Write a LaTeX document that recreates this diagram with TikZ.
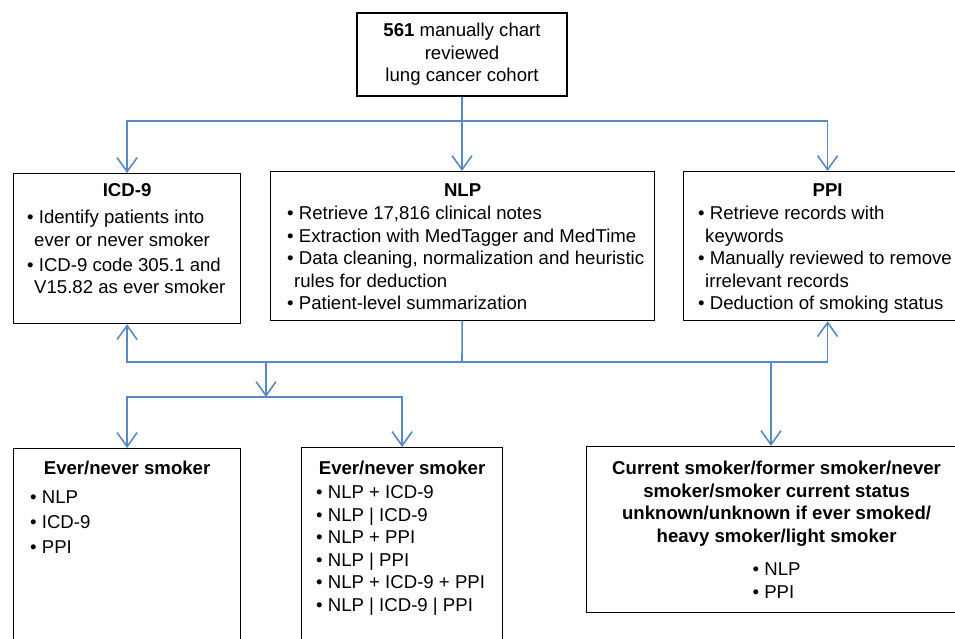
\documentclass[tikz,border=0pt]{standalone}
\usepackage{fontspec}
\setmainfont{Liberation Sans}
\usetikzlibrary{positioning,arrows.meta}
\definecolor{linkblue}{RGB}{86,137,197}
\newcommand{\boxfont}{\fontsize{18.6}{22.5}\selectfont}
\newcommand{\bul}{\textbullet\ }
\newcommand{\cont}{\hspace*{7pt}}
\tikzset{
  box/.style={draw, line width=1.2pt, inner sep=0pt, anchor=north west},
  title/.style={inner sep=0pt, anchor=north, font=\boxfont\bfseries},
  list/.style={inner sep=0pt, align=left, anchor=north west},
  link/.style={draw=linkblue, line width=1.6pt},
  flow/.style={link, -{Straight Barb[length=14pt,width=20pt]}},
}
\begin{document}
\begin{tikzpicture}[x=1pt, y=-1pt, font=\boxfont]
  \useasboundingbox (0,0) rectangle (955,639);
  \node[box, anchor=center, align=center, minimum width=210, minimum height=83] (cohort) at (462,54.5) {\textbf{561} manually chart\\reviewed\\lung cancer cohort};
  \node[box, minimum width=227, minimum height=150] (icd) at (13,173) {};
  \node[box, minimum width=384, minimum height=149] (nlp) at (270,171) {};
  \node[box, minimum width=288, minimum height=149] (ppi) at (683,171) {};
  \node[box, minimum width=227, minimum height=220] (evernever) at (13,448) {};
  \node[box, minimum width=201, minimum height=220] (combo) at (301,447) {};
  \node[box, minimum width=380, minimum height=166] (status) at (586,446) {};

  \node[title, below=10.3pt of icd.north] (icd-title) {ICD-9};
  \node[list, below right=37pt and 14pt of icd.north west] (icd-list) {\bul Identify patients into\\\cont ever or never smoker\\[2.5pt]\bul ICD-9 code 305.1 and\\\cont V15.82 as ever smoker};
  \node[title, below=12.3pt of nlp.north] (nlp-title) {NLP};
  \node[list, below right=35pt and 17pt of nlp.north west] (nlp-list) {\bul Retrieve 17,816 clinical notes\\\bul Extraction with MedTagger and MedTime\\\bul Data cleaning, normalization and heuristic\\\cont rules for deduction\\\bul Patient-level summarization};
  \node[title, below=12.3pt of ppi.north] (ppi-title) {PPI};
  \node[list, below right=35pt and 15pt of ppi.north west] (ppi-list) {\bul Retrieve records with\\\cont keywords\\\bul Manually reviewed to remove\\\cont irrelevant records\\\bul Deduction of smoking status};
  \node[title, below=13.2pt of evernever.north] (evernever-title) {Ever/never smoker};
  \node[list, below right=42pt and 17pt of evernever.north west] (evernever-list) {\bul NLP\\[2.5pt]\bul ICD-9\\[2.5pt]\bul PPI};
  \node[title, below=14.2pt of combo.north] (combo-title) {Ever/never smoker};
  \node[list, below right=38.7pt and 15pt of combo.north west] (combo-list) {\bul NLP + ICD-9\\\bul NLP | ICD-9\\\bul NLP + PPI\\\bul NLP | PPI\\\bul NLP + ICD-9 + PPI\\\bul NLP | ICD-9 | PPI};
  \node[title, align=center, below=15pt of status.north] (status-title) {Current smoker/former smoker/never\\smoker/smoker current status\\unknown/unknown if ever smoked/\\heavy smoker/light smoker};
  \node[list, anchor=north, below=16.4pt of status-title] (status-list) {\bul NLP\\\bul PPI};

  \coordinate (fork) at (462,121);
  \coordinate (merge) at (462,362);
  \coordinate (split) at (266,397);
  \coordinate (drop) at (771,362);
  \draw[link] (cohort) -- (fork);
  \draw[flow] (fork) -| (icd.north);
  \draw[flow] (fork) -- (fork |- nlp.north);
  \draw[flow] (fork) -| (ppi.north);
  \draw[link] (nlp) -- (merge);
  \draw[flow] (merge) -| (icd.south);
  \draw[flow] (merge) -| (ppi.south);
  \draw[flow] (merge -| split) -- (split);
  \draw[flow] (split) -| (evernever.north);
  \draw[flow] (split) -| (combo.north);
  \draw[flow] (drop) -- (drop |- status.north);
\end{tikzpicture}
\end{document}
